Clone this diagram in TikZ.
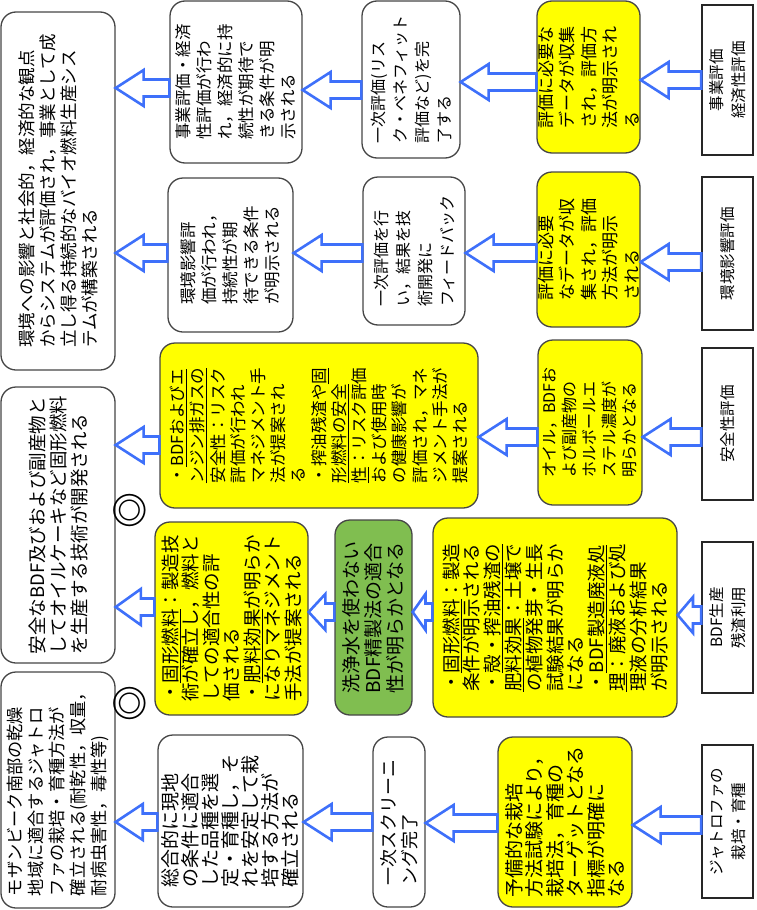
\documentclass[tikz,border=0pt]{standalone}
\usepackage{fontspec}
\setmainfont{Noto Sans CJK JP}
\usetikzlibrary{calc}

\definecolor{arrowblue}{RGB}{62,112,250}
\definecolor{boxyellow}{RGB}{255,255,0}
\definecolor{boxgreen}{RGB}{128,190,80}
\definecolor{boxline}{RGB}{70,70,70}

\tikzset{
  vbox/.style={draw=boxline, line width=1.3pt, rotate=90, align=left,
    inner sep=1pt, rounded corners=15pt},
  whitebox/.style={vbox, fill=white},
  yellowbox/.style={vbox, fill=boxyellow},
  greenbox/.style={vbox, fill=boxgreen},
  catbox/.style={vbox, fill=white, rounded corners=0pt, align=center,
    draw=black!85, line width=1.5pt},
  boxsize/.style 2 args={minimum height=#1, minimum width=#2},
  fs/.style 2 args={font=\fontsize{#1}{#2}\selectfont},
  ringmark/.style={rotate=90, inner sep=0pt, font=\fontsize{36}{36}\selectfont\bfseries},
  flowarrow/.style={draw=arrowblue, line width=2.6pt, fill=white, line join=miter}
}

% hollow block arrow, #1 = height, from #2 (right) to #3 (left)
\newcommand\flowarrow[3]{%
  \draw[flowarrow] let \p1=(#2.north), \p2=(#3.south),
      \n1={min(28,0.65*(\x1-\x2))} in
    (\x1,#1+8.5) -- (\x2+\n1,#1+8.5) -- (\x2+\n1,#1+18) -- (\x2,#1)
    -- (\x2+\n1,#1-18) -- (\x2+\n1,#1-8.5) -- (\x1,#1-8.5) -- cycle;}

\begin{document}
\begin{tikzpicture}[x=1pt, y=1pt]
\useasboundingbox (0,0) rectangle (756,-910);

% categories
\node[catbox, boxsize={51}{150}, fs={15.5}{22}] (ecoCat) at (727.5,-80) {事業評価\\経済性評価};
\node[catbox, boxsize={51}{153}, fs={15.5}{22}] (envCat) at (727.5,-253.5) {環境影響評価};
\node[catbox, boxsize={51}{152}, fs={15.5}{22}] (safeCat) at (727.5,-424) {安全性評価};
\node[catbox, boxsize={51}{151}, fs={15.5}{22}] (bdfCat) at (727.5,-617.5) {BDF生産\\残渣利用};
\node[catbox, boxsize={51}{153}, fs={15.5}{22}] (jatCat) at (727.5,-821.5) {ジャトロファの\\栽培・育種};

% economy row
\node[yellowbox, boxsize={103}{152}, fs={17}{21.5}] (ecoData) at (588.5,-77)
  {評価に必要な\\データが収集\\され，評価方\\法が明示され\\る};
\node[whitebox, boxsize={98}{157}, fs={16}{22}] (ecoFirst) at (411,-79.5)
  {一次評価(リス\\ク・ベネフィット\\評価など)を完\\了する};
\node[whitebox, boxsize={132}{162}, fs={16.5}{21}] (ecoCond) at (236,-82)
  {事業評価・経済\\性評価が行わ\\れ，経済的に持\\続性が期待で\\きる条件が明\\示される};
\node[whitebox, boxsize={114}{358}, fs={17.5}{21}] (ecoGoal) at (58,-191)
  {環境への影響と社会的，経済的な観点\\からシステムが評価され，事業として成\\立し得る持続的なバイオ燃料生産シス\\テムが構築される};

% environment row
\node[yellowbox, boxsize={103}{155}, fs={17}{21.5}] (envData) at (588.5,-249.5)
  {評価に必要\\なデータが収\\集され，評価\\方法が明示\\される};
\node[whitebox, boxsize={102}{148}, fs={16}{22}] (envFirst) at (414,-251)
  {一次評価を行\\い，結果を技\\術開発に\\フィードバック};
\node[whitebox, boxsize={125}{154}, fs={16.5}{21}] (envCond) at (230.5,-255)
  {環境影響評\\価が行われ，\\持続性が期\\待できる条件\\が明示される};

% safety row
\node[yellowbox, boxsize={104}{165}, fs={16}{20}] (safeConc) at (590,-422.5)
  {オイル，BDFお\\よび副産物の\\ホルボールエ\\ステル濃度が\\明らかとなる};
\node[yellowbox, boxsize={318}{165}, fs={16.5}{20.2}] (safeRisk) at (319,-425.5)
  {・\underline{BDFおよびエ}\\\underline{ンジン排ガスの}\\安全性：リスク\\評価が行われ\\マネジメント手\\法が提案され\\る\\・搾油残渣や\underline{固}\\\underline{形燃料の安全}\\\underline{性}：リスク評価\\および使用時\\の健康影響が\\評価され，マネ\\ジメント手法が\\提案される};
\node[whitebox, boxsize={114}{276}, fs={18.5}{21}] (safeGoal) at (58,-525)
  {安全なBDF及びおよび副産物と\\してオイルケーキなど固形燃料\\を生産する技術が開発される};

% BDF row
\node[yellowbox, boxsize={244}{199}, fs={18.5}{20.8}] (bdfResult) at (555,-617.5)
  {・\underline{固形燃料}：製造\\条件が明示される\\・\underline{殻・搾油残渣の}\\\underline{肥料効果}：土壌で\\の植物発芽・生長\\試験結果が明らか\\になる\\・\underline{BDF製造廃液処}\\\underline{理}：廃液および処\\理液の分析結果\\が明示される};
\node[greenbox, boxsize={77}{195}, fs={19}{22}] (bdfWash) at (373.5,-617.5)
  {洗浄水を使わない\\BDF精製法の適合\\性が明らかとなる};
\node[yellowbox, boxsize={153}{193}, fs={18.5}{20.5}] (bdfFuel) at (231.5,-618.5)
  {・\underline{固形燃料}：製造技\\術が確立し，燃料と\\しての適合性の評\\価される\\・\underline{肥料効果}が明らか\\になりマネジメント\\手法が提案される};

% jatropha row
\node[yellowbox, boxsize={134}{170}, fs={19}{20.5}] (jatPrelim) at (565,-822)
  {予備的な栽培\\方法試験により，\\栽培法，育種の\\ターゲットとなる\\指標が明確に\\なる};
\node[whitebox, boxsize={52}{170}, fs={18}{21}] (jatScreen) at (399,-822)
  {一次スクリーニ\\ング完了};
\node[whitebox, boxsize={145}{172}, fs={19}{20}] (jatBreed) at (230.5,-821)
  {総合的に現地\\の条件に適合\\した品種を選\\定・育種し，そ\\れを安定して栽\\培する方法が\\確立される};
\node[whitebox, boxsize={114}{236}, fs={17.2}{21}] (jatGoal) at (58,-790)
  {モザンビーク南部の乾燥\\地域に適合するジャトロ\\ファの栽培・育種方法が\\確立される(耐乾性，収量，\\耐病虫害性，毒性等)};

% marks
\node[ringmark] (ringA) at (130,-510) {◎};
\node[ringmark] (ringB) at (130,-703) {◎};

% arrows
\flowarrow{-80}{ecoCat}{ecoData}
\flowarrow{-82}{ecoData}{ecoFirst}
\flowarrow{-90}{ecoFirst}{ecoCond}
\flowarrow{-88}{ecoCond}{ecoGoal}
\flowarrow{-262}{envCat}{envData}
\flowarrow{-253}{envData}{envFirst}
\flowarrow{-253}{envFirst}{envCond}
\flowarrow{-253}{envCond}{ecoGoal}
\flowarrow{-437}{safeCat}{safeConc}
\flowarrow{-437}{safeConc}{safeRisk}
\flowarrow{-445}{safeRisk}{safeGoal}
\flowarrow{-615}{bdfCat}{bdfResult}
\flowarrow{-612}{bdfResult}{bdfWash}
\flowarrow{-612}{bdfWash}{bdfFuel}
\flowarrow{-607}{bdfFuel}{safeGoal}
\flowarrow{-825}{jatCat}{jatPrelim}
\flowarrow{-823}{jatPrelim}{jatScreen}
\flowarrow{-822}{jatScreen}{jatBreed}
\flowarrow{-822}{jatBreed}{jatGoal}
\end{tikzpicture}
\end{document}
